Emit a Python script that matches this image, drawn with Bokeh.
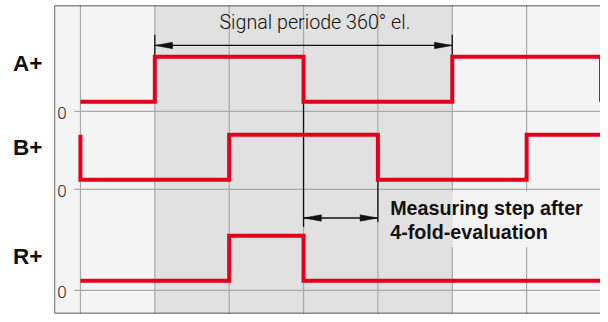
from bokeh.plotting import figure
from bokeh.models import Range1d, FixedTicker, Span
from bokeh.core.properties import value
from bokeh.embed import file_html
from bokeh.resources import INLINE

# ---------------- data ----------------
channels = ["A+", "B+", "R+"]
# step signals: positions in degrees electrical, level after each position (0 = low, 1 = high)
a_x = [-90, 0, 180, 360, 540]
a_lvl = [0, 1, 0, 1, 0]
b_x = [-90, -90, 90, 270, 450, 560]
b_lvl = [1, 0, 1, 0, 1, 1]
r_x = [-90, 90, 180, 560]
r_lvl = [0, 1, 0, 0]
grid_deg = [-90, 0, 90, 180, 270, 360, 450, 540]
period_start, period_end = 0, 360      # signal period 360° el.
step_start, step_end = 180, 270        # measuring step after 4-fold evaluation
period_label = "Signal periode 360° el."
step_label = ["Measuring step after", "4-fold-evaluation"]
zero_label = "0"

# ---------------- layout / style ----------------
FIG_W, FIG_H = 600, 314
X0, X1 = -121.4, 539.4          # degrees shown across the frame
Y0, Y1 = 0, 316                 # vertical layout units
REF_SCALE = 553 / (X1 - X0)     # layout units per degree of the drawing
def deg_at(u):                  # horizontal layout unit (from frame left) -> degrees
    return X0 + u / REF_SCALE

lane_zero = [207.3, 127.3, 23.7]
lane_label_y = [257, 170, 58]
LOW, HIGH = 10, 56
RED = "#e2001a"
GRID = "#a9a9a9"
SHADE = "#e1e1e1"
BG = "#f4f4f4"
INK = "#111111"

p = figure(width=FIG_W, height=FIG_H, x_range=Range1d(X0, X1), y_range=Range1d(Y0, Y1),
           output_backend="svg", toolbar_location=None, x_axis_location=None,
           min_border_left=54, min_border_right=0, min_border_top=5, min_border_bottom=1,
           background_fill_color=BG, border_fill_color="white", outline_line_color=None)
p.grid.visible = False

# y axis used only for the channel names
ax = p.yaxis[0]
ax.ticker = FixedTicker(ticks=lane_label_y)
ax.major_label_overrides = {t: n for t, n in zip(lane_label_y, channels)}
ax.axis_line_color = None
ax.major_tick_line_color = None
ax.minor_tick_line_color = None
ax.major_tick_out = 0
ax.major_tick_in = 0
ax.major_label_standoff = 12
ax.major_label_text_font = "Liberation Sans"
ax.major_label_text_font_style = "bold"
ax.major_label_text_font_size = "22.5px"
ax.major_label_text_color = INK

# shaded signal period
p.quad(left=[period_start], right=[period_end], bottom=[Y0], top=[Y1],
       fill_color=SHADE, line_color=None)

# grid
p.segment(x0=grid_deg, y0=[Y0] * len(grid_deg), x1=grid_deg, y1=[Y1] * len(grid_deg),
          line_color=GRID, line_width=1.2)
p.segment(x0=[deg_at(20)] * 3, y0=lane_zero, x1=[X1 + 5] * 3, y1=lane_zero,
          line_color=GRID, line_width=1.2)

# text background (hides the grid behind the text)
tb_left, tb_right = deg_at(335), deg_at(545)
p.quad(left=[tb_left], right=[period_end], bottom=[68], top=[125.5], fill_color=SHADE, line_color=None)
p.quad(left=[period_end], right=[tb_right], bottom=[68], top=[125.5], fill_color=BG, line_color=None)

def lvl_y(lane, lvl):
    return lane_zero[lane] + LOW + lvl * (HIGH - LOW)

# black marker lines
arrow_y_period = 275
arrow_y_step = 98
p.segment(x0=[period_start, period_end, step_start, step_end],
          y0=[265, 265, lvl_y(0, 0), lvl_y(1, 0)],
          x1=[period_start, period_end, step_start, step_end],
          y1=[286, 286, 89, 94], line_color=INK, line_width=1.3)
p.segment(x0=[period_start, step_start], y0=[arrow_y_period, arrow_y_step],
          x1=[period_end, step_end], y1=[arrow_y_period, arrow_y_step],
          line_color=INK, line_width=1.3)

HL = 18 / REF_SCALE
HW = 3.3
def head(tip, y, d):
    return [tip, tip + d * HL, tip + d * HL], [y, y + HW, y - HW]

hx, hy = [], []
for tip, y, d in [(period_start, arrow_y_period, 1), (period_end, arrow_y_period, -1),
                  (step_start, arrow_y_step, 1), (step_end, arrow_y_step, -1)]:
    xs, ys = head(tip, y, d)
    hx.append(xs)
    hy.append(ys)
p.patches(hx, hy, fill_color=INK, line_color=INK, line_width=0.5)

# signals
for lane, (xs, lv) in enumerate([(a_x, a_lvl), (b_x, b_lvl), (r_x, r_lvl)]):
    p.step(xs, [lvl_y(lane, v) for v in lv], mode="after", line_color=RED,
           line_width=4, line_join="miter")

# texts
p.text(x=[deg_at(167)], y=[298.5], text=[period_label],
       text_font=value("Roboto Light"), text_font_size="19.7px", text_color=INK,
       text_align="left", text_baseline="alphabetic")
p.text(x=[deg_at(7.5)] * 3, y=[z - 1.5 for z in lane_zero], text=[zero_label] * 3,
       text_font=value("Roboto Light"), text_font_size="17px", text_color="#1a1a1a",
       text_align="center", text_baseline="middle")
tx = deg_at(340)
p.text(x=[tx, tx], y=[108.7, 83.7], text=step_label,
       text_font=value("Liberation Sans"), text_font_style="bold", text_font_size="19.7px",
       text_color=INK, text_align="left", text_baseline="alphabetic")

# frame border (left, top, bottom)
p.add_layout(Span(location=X0, dimension="height", line_color="#222222", line_width=1.3))
p.add_layout(Span(location=Y1, dimension="width", line_color="#222222", line_width=1.5))
p.add_layout(Span(location=Y0, dimension="width", line_color="#222222", line_width=1.5))

open("out.html", "w").write(file_html(p, INLINE))
